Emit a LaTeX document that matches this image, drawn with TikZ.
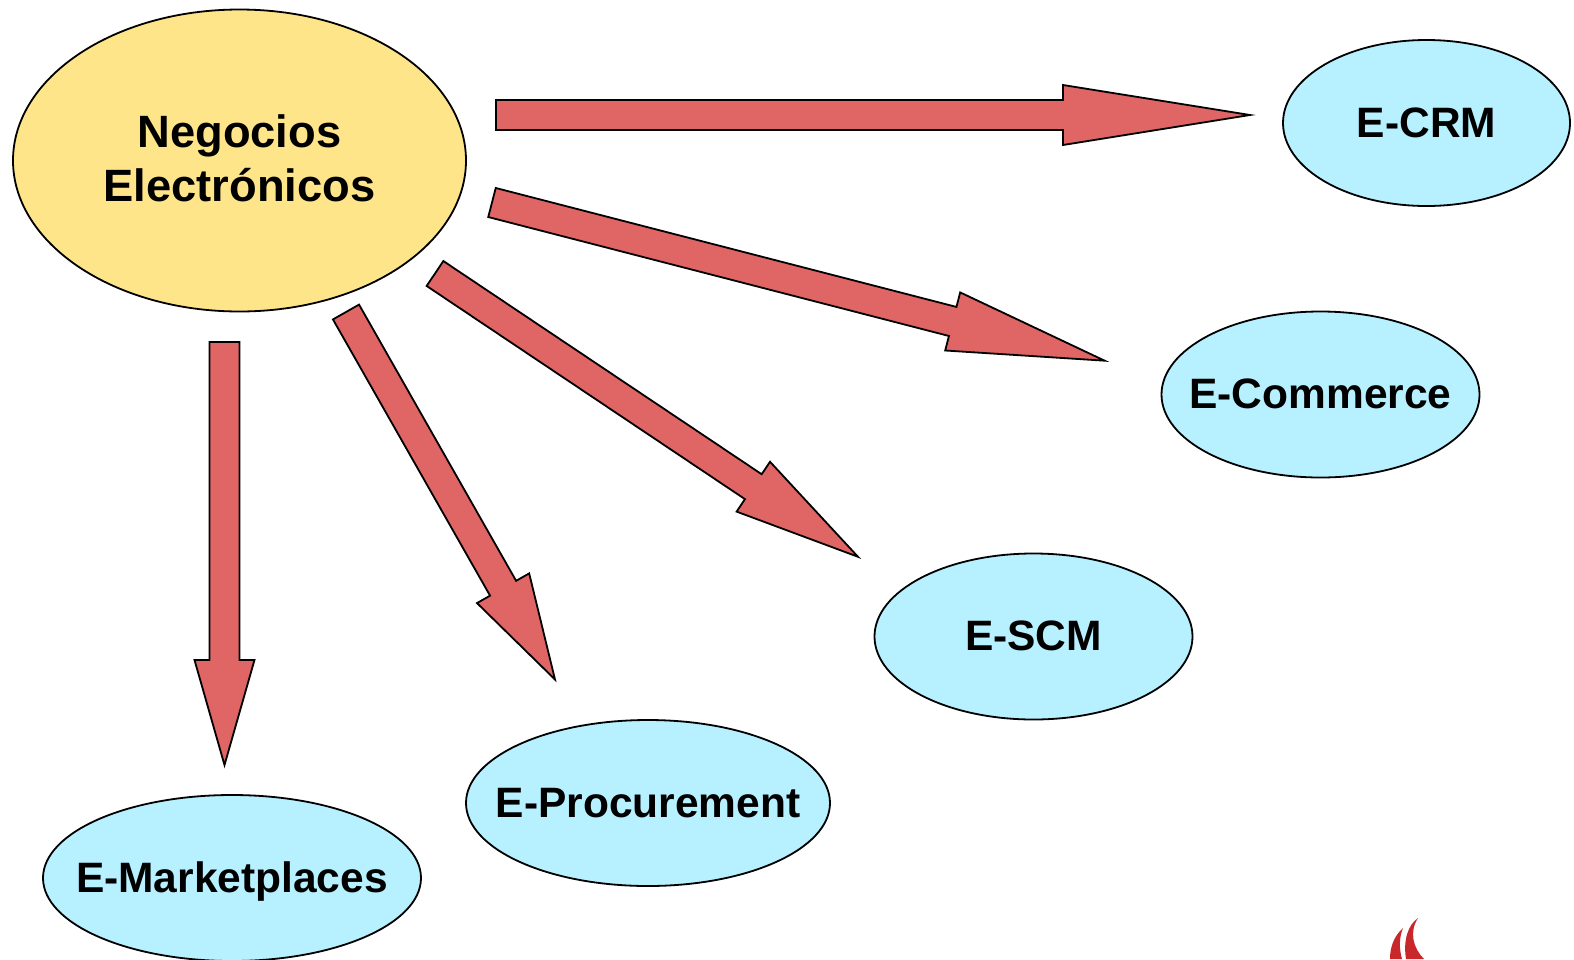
\documentclass[tikz,border=0pt]{standalone}
\usepackage{xcolor}
\usepackage{fontspec}
\setmainfont{Liberation Sans}
\usetikzlibrary{shapes.geometric, positioning, calc}
\definecolor{arrowred}{HTML}{E06565}
\definecolor{rootyellow}{HTML}{FFE58A}
\definecolor{leafblue}{HTML}{B7F0FF}
\definecolor{logored}{HTML}{C8282A}
\tikzset{x=1pt,
         y=-1pt,
         every node/.style={font=\fontsize{42.5}{54}\selectfont\bfseries, align=center},
         bubble/.style={ellipse, draw=black, line width=1.8pt, inner sep=0pt, minimum height=166pt},
         root/.style={bubble, fill=rootyellow, font=\fontsize{45.3}{54}\selectfont\bfseries, text depth=5pt, minimum width=453pt, minimum height=302pt},
         leaf/.style={bubble, fill=leafblue, text height=36pt, text depth=8pt},
         bigarrow/.style={draw=black, line width=1.8pt, fill=arrowred, line join=miter},
         }
% #1 tail, #2 tip, #3 length of the head
\newcommand{\bigarrow}[3]{
    \coordinate (h) at ($(#2)!#3pt!(#1)$);
    \draw[bigarrow] ($(#1)!15pt!90:(#2)$) -- ($(h)!15pt!-90:(#1)$) -- ($(h)!30pt!-90:(#1)$) -- (#2)
        -- ($(h)!30pt!90:(#1)$) -- ($(h)!15pt!90:(#1)$) -- ($(#1)!15pt!-90:(#2)$) -- cycle;
}

\begin{document}
\begin{tikzpicture}
    \clip (0,0) rectangle (1574,959);
    \fill[white] (0,0) rectangle (1574,959);

    \node[root] (neg) at (239.5,160.5) {Negocios\\Electrónicos};
    \node[leaf, minimum width=287pt, right of=neg, node distance=1187pt, yshift=37.5pt] (crm) {\makebox[0pt]{E-CRM}};
    \node[leaf, minimum width=318pt, below of=crm, node distance=271.5pt, xshift=-106pt] (commerce) {\makebox[0pt]{E-Commerce}};
    \node[leaf, minimum width=318pt, below of=commerce, node distance=242pt, xshift=-287pt] (scm) {\makebox[0pt]{E-SCM}};
    \node[leaf, minimum width=364pt, below of=scm, node distance=166.5pt, xshift=-385.5pt] (proc) {\makebox[0pt]{E-Procurement}};
    \node[leaf, minimum width=378pt, below of=proc, node distance=75pt, xshift=-416pt] (market) {\makebox[0pt]{E-Marketplaces}};

    \coordinate (tailcrm) at (496,115);
    \coordinate (tipcrm) at (1250,115);
    \coordinate (tailcommerce) at (492,202.5);
    \coordinate (tipcommerce) at (1104.7,360.7);
    \coordinate (tailscm) at (435,273.5);
    \coordinate (tipscm) at (858,556.8);
    \coordinate (tailproc) at (346,312);
    \coordinate (tipproc) at (555,679.5);
    \coordinate (tailmarket) at (224.5,342);
    \coordinate (tipmarket) at (224.5,765);

    \bigarrow{tailcrm}{tipcrm}{187}
    \bigarrow{tailcommerce}{tipcommerce}{157}
    \bigarrow{tailscm}{tipscm}{126}
    \bigarrow{tailproc}{tipproc}{105}
    \bigarrow{tailmarket}{tipmarket}{105}

    % logo in the corner
    \fill[logored] (1403,928) .. controls (1394,936) and (1390,947) .. (1390,959) -- (1402,959)
        .. controls (1399,948) and (1399,938) .. (1403,928) -- cycle;
    \fill[logored] (1418,918) .. controls (1408,925) and (1403,940) .. (1406,959) -- (1424,959)
        .. controls (1413,948) and (1409,932) .. (1418,918) -- cycle;
\end{tikzpicture}
\end{document}
